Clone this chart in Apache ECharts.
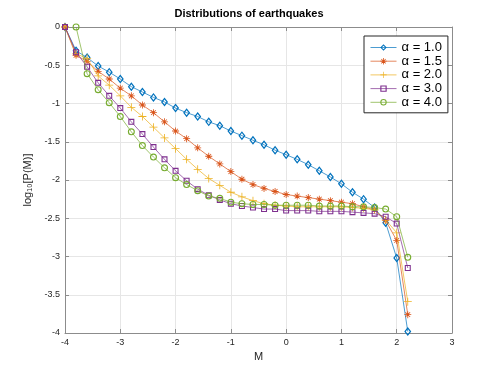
<!DOCTYPE html>
<html>
<head>
<meta charset="utf-8">
<script src="https://cdn.jsdelivr.net/npm/echarts@6/dist/echarts.min.js"></script>
<style>
  html, body { margin: 0; padding: 0; background: #fff; }
  #main { width: 498px; height: 374px; }
</style>
</head>
<body>
<div id="main"></div>
<script>
// magnitude values (x)
var mValues = [-4.0, -3.8, -3.6, -3.4, -3.2, -3.0, -2.8, -2.6, -2.4, -2.2,
               -2.0, -1.8, -1.6, -1.4, -1.2, -1.0, -0.8, -0.6, -0.4, -0.2,
               0.0, 0.2, 0.4, 0.6, 0.8, 1.0, 1.2, 1.4, 1.6,
               1.8, 2.0, 2.2]

// log10 P(M) for each alpha
var alpha10 = [0, -0.31, -0.40, -0.51, -0.59, -0.68, -0.78, -0.85, -0.92, -0.98,
               -1.06, -1.12, -1.17, -1.24, -1.29, -1.36, -1.42, -1.48, -1.54, -1.61,
               -1.67, -1.73, -1.80, -1.88, -1.96, -2.05, -2.16, -2.25, -2.36,
               -2.56, -3.02, -3.98]
var alpha15 = [0, -0.37, -0.45, -0.58, -0.68, -0.80, -0.90, -1.02, -1.12, -1.24,
               -1.36, -1.46, -1.58, -1.69, -1.79, -1.89, -1.99, -2.06, -2.11, -2.15,
               -2.19, -2.21, -2.23, -2.25, -2.27, -2.29, -2.31, -2.35, -2.39,
               -2.53, -2.79, -3.76]
var alpha20 = [0, -0.35, -0.41, -0.64, -0.76, -0.90, -1.05, -1.17, -1.31, -1.45,
               -1.59, -1.73, -1.86, -1.98, -2.07, -2.16, -2.22, -2.27, -2.31, -2.33,
               -2.34, -2.35, -2.35, -2.35, -2.35, -2.35, -2.36, -2.37, -2.39,
               -2.52, -2.69, -3.59]
var alpha30 = [0, -0.33, -0.52, -0.73, -0.90, -1.06, -1.24, -1.40, -1.57, -1.73,
               -1.88, -2.01, -2.12, -2.20, -2.26, -2.31, -2.34, -2.36, -2.38, -2.38,
               -2.40, -2.40, -2.40, -2.41, -2.41, -2.41, -2.42, -2.43, -2.44,
               -2.48, -2.57, -3.15]
var alpha40 = [null, 0, -0.61, -0.82, -0.99, -1.17, -1.37, -1.55, -1.70, -1.84,
               -1.97, -2.06, -2.14, -2.21, -2.24, -2.29, -2.31, -2.32, -2.32, -2.33,
               -2.33, -2.33, -2.33, -2.34, -2.34, -2.34, -2.35, -2.35, -2.36,
               -2.38, -2.48, -3.01]

var seriesNames = ['α = 1.0', 'α = 1.5', 'α = 2.0', 'α = 3.0', 'α = 4.0']
var colors = ['#0072BD', '#D95319', '#EDB120', '#7E2F8E', '#77AC30']

// marker shapes as filled outlines (hollow ones are rings)
var plusPath = 'path://M4.5,0 L5.5,0 L5.5,4.5 L10,4.5 L10,5.5 L5.5,5.5 L5.5,10 L4.5,10 L4.5,5.5 L0,5.5 L0,4.5 L4.5,4.5 Z'
var starPath = 'path://M4.4,0 L5.6,0 L5.6,4.4 L10,4.4 L10,5.6 L5.6,5.6 L5.6,10 L4.4,10 L4.4,5.6 L0,5.6 L0,4.4 L4.4,4.4 Z ' +
               'M1.2,2.0 L2.0,1.2 L5,4.2 L8.0,1.2 L8.8,2.0 L5.8,5 L8.8,8.0 L8.0,8.8 L5,5.8 L2.0,8.8 L1.2,8.0 L4.2,5 Z'
var diamondPath = 'path://M5,0 L10,5 L5,10 L0,5 Z M5,2.2 L2.2,5 L5,7.8 L7.8,5 Z'
var squarePath = 'path://M0,0 L10,0 L10,10 L0,10 Z M1.8,1.8 L1.8,8.2 L8.2,8.2 L8.2,1.8 Z'
var circlePath = 'path://M5,0 A5,5 0 1,1 5,10 A5,5 0 1,1 5,0 Z M5,1.6 A3.4,3.4 0 1,0 5,8.4 A3.4,3.4 0 1,0 5,1.6 Z'

function pairs(arr) {
    return mValues.map(function (m, i) {
        return arr[i] === null ? [m, '-'] : [m, arr[i]]
    })
}

var chart = echarts.init(document.getElementById('main'))
var axisCol = '#8c8c8c'
var textCol = '#262626'
var fontFam = 'Liberation Sans, Arial, sans-serif'

function mkSeries(idx, data, symbol, size) {
    return {
        name: seriesNames[idx],
        type: 'line',
        data: pairs(data),
        symbol: symbol,
        symbolSize: size,
        showAllSymbol: true,
        connectNulls: false,
        lineStyle: { color: colors[idx], width: 1, opacity: 0.7 },
        itemStyle: { color: colors[idx], borderWidth: 0 },
        emphasis: { disabled: true },
        z: 2 + idx
    }
}

chart.setOption({
    animation: false,
    title: {
        text: 'Distributions of earthquakes',
        left: 'center',
        top: 3,
        textStyle: { fontSize: 11, fontWeight: 'bold', color: '#000', fontFamily: fontFam }
    },
    grid: { left: 65, right: 46, top: 27, bottom: 41 },
    legend: {
        orient: 'vertical',
        left: 364,
        top: 36,
        padding: [5, 6, 4, 6],
        itemGap: 0.7,
        itemWidth: 26,
        itemHeight: 8,
        borderColor: textCol,
        borderWidth: 1,
        backgroundColor: '#fff',
        lineStyle: { width: 1 },
        itemStyle: { borderWidth: 0 },
        textStyle: { fontSize: 13, color: '#000', fontFamily: fontFam },
        data: seriesNames
    },
    xAxis: [{
        type: 'value',
        min: -4, max: 3, interval: 1,
        name: 'M',
        nameLocation: 'middle',
        nameGap: 17,
        nameTextStyle: { fontSize: 11, color: textCol, fontFamily: fontFam },
        axisLine: { show: true, onZero: false, lineStyle: { color: axisCol } },
        axisTick: { show: true, inside: true, length: 4, lineStyle: { color: axisCol } },
        axisLabel: { fontSize: 9, color: textCol, margin: 5, fontFamily: fontFam },
        splitLine: { show: true, lineStyle: { color: '#e6e6e6' } }
    }, {
        type: 'value',
        position: 'top',
        min: -4, max: 3, interval: 1,
        axisLine: { show: true, onZero: false, lineStyle: { color: axisCol } },
        axisTick: { show: true, inside: true, length: 4, lineStyle: { color: axisCol } },
        axisLabel: { show: false },
        splitLine: { show: false }
    }],
    yAxis: [{
        type: 'value',
        min: -4, max: 0, interval: 0.5,
        name: 'log₁₀[P(M)]',
        nameLocation: 'middle',
        nameRotate: 90,
        nameGap: 21,
        nameTextStyle: { fontSize: 11, color: textCol, fontFamily: fontFam },
        axisLine: { show: true, onZero: false, lineStyle: { color: axisCol } },
        axisTick: { show: true, inside: true, length: 4, lineStyle: { color: axisCol } },
        axisLabel: { fontSize: 9, color: textCol, margin: 5, fontFamily: fontFam },
        splitLine: { show: true, lineStyle: { color: '#e6e6e6' } }
    }, {
        type: 'value',
        position: 'right',
        min: -4, max: 0, interval: 0.5,
        axisLine: { show: true, onZero: false, lineStyle: { color: axisCol } },
        axisTick: { show: true, inside: true, length: 4, lineStyle: { color: axisCol } },
        axisLabel: { show: false },
        splitLine: { show: false }
    }],
    series: [
        mkSeries(0, alpha10, diamondPath, [7, 9]),
        mkSeries(1, alpha15, starPath, 7),
        mkSeries(2, alpha20, plusPath, 8),
        mkSeries(3, alpha30, squarePath, 6),
        mkSeries(4, alpha40, circlePath, 7)
    ]
})
</script>
</body>
</html>
